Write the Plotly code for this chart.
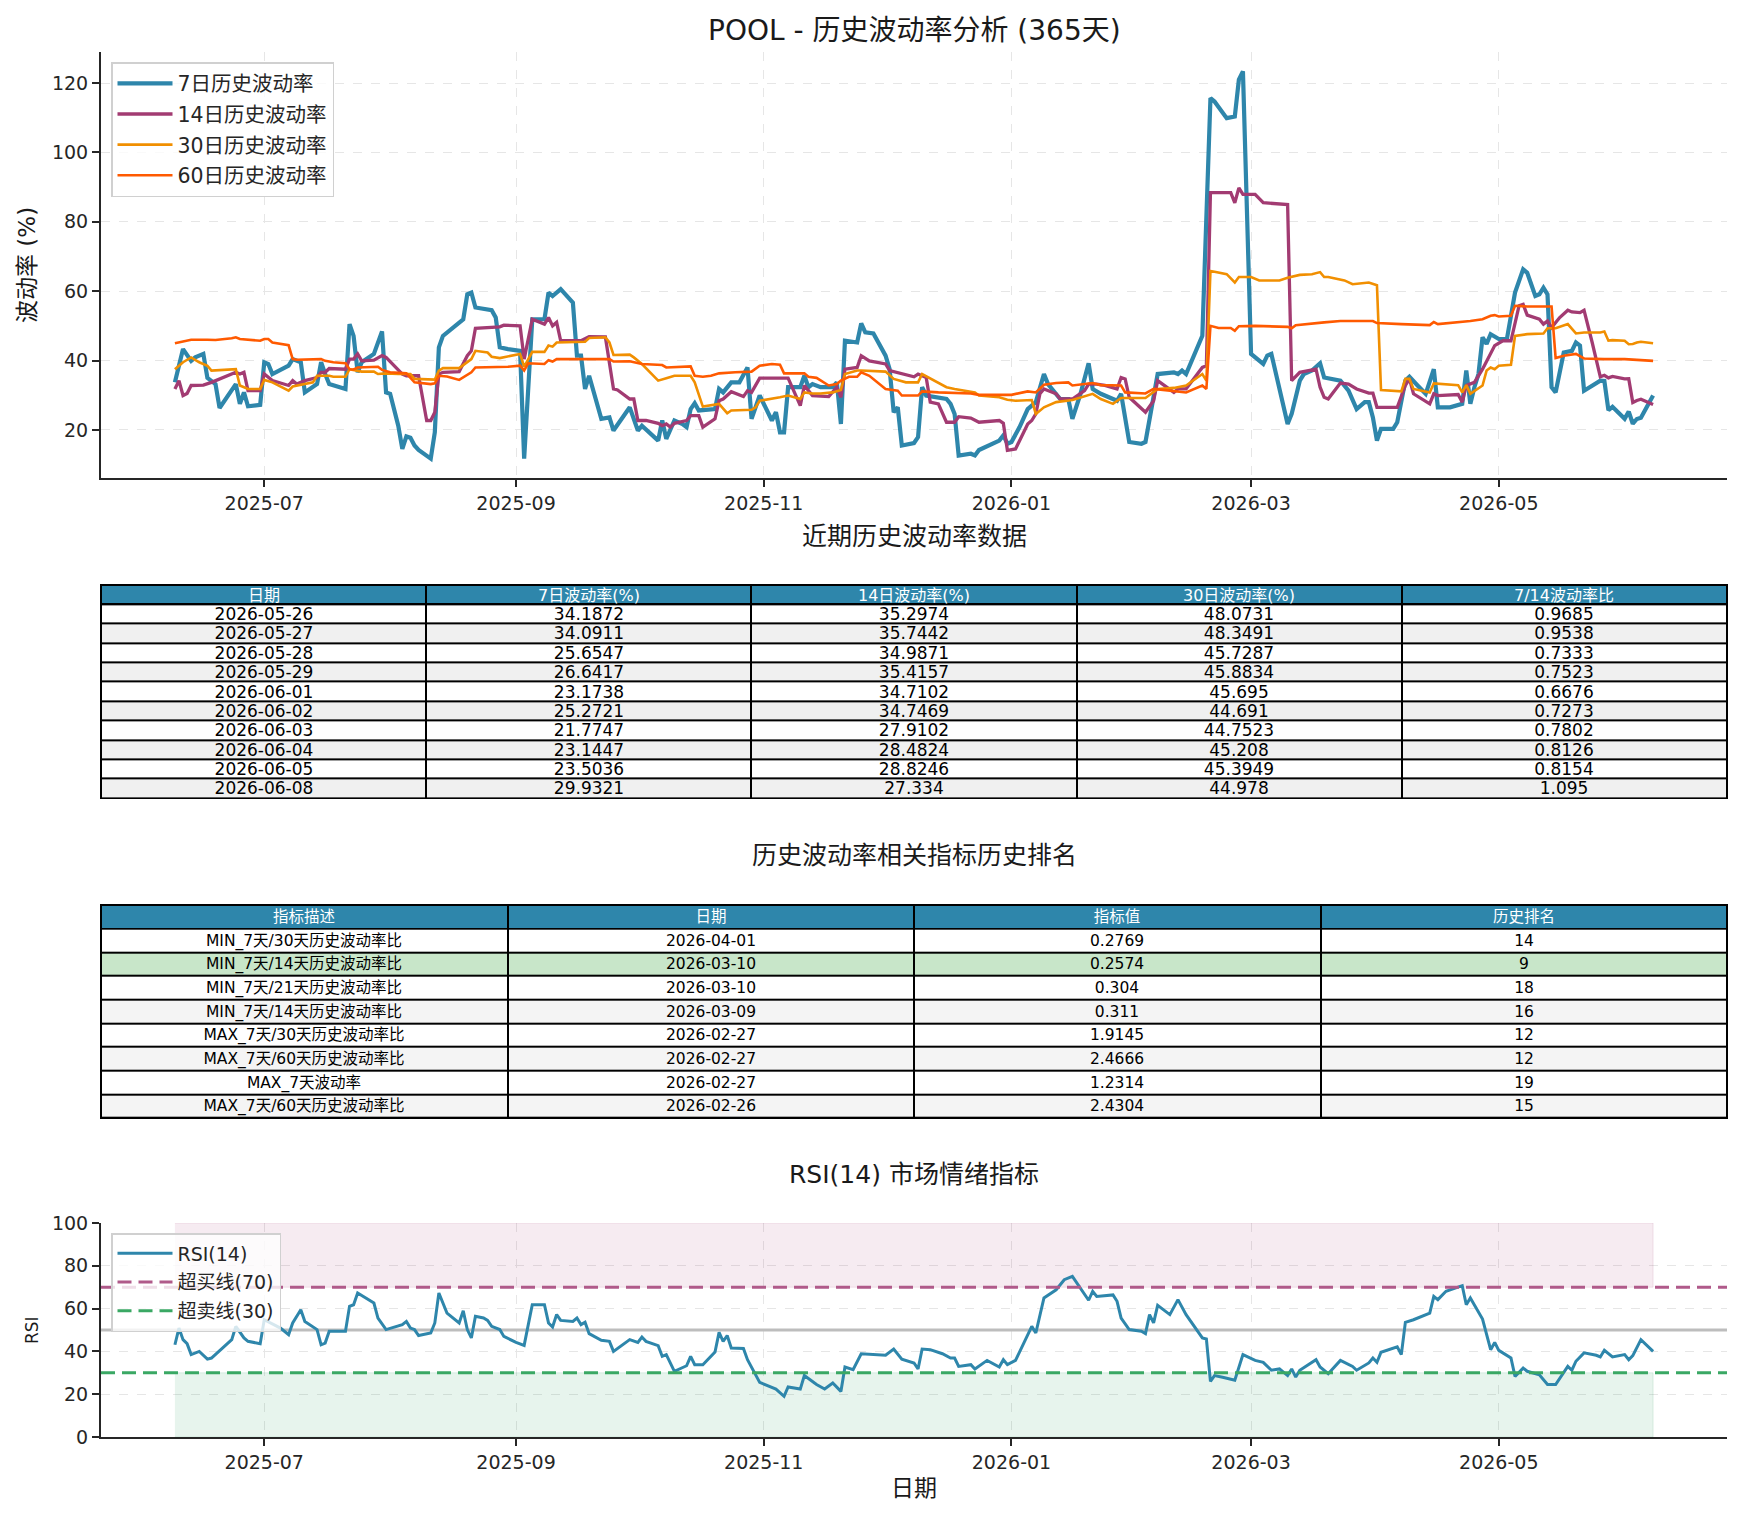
import pandas as pd
import plotly.graph_objects as go

# ---------------- data ----------------
BASE_DATE = "2025-06-09"  # first observation; x values below are day offsets from it

vol7_days = [0, 2, 4, 5, 7, 8, 10, 11, 15, 16, 17, 18, 21, 22, 23, 24, 28, 29, 31, 32, 35, 36, 37, 38, 42, 43, 44, 45, 46, 49,
             51, 52, 53, 55, 56, 57, 58, 59, 60, 63, 64, 65, 66, 71, 72, 73, 74, 78, 79, 80, 82, 85, 86, 88, 91, 92, 93, 95, 98, 99,
             100, 101, 102, 105, 107, 108, 112, 114, 115, 119, 120, 121, 123, 125, 126, 127, 128, 129, 133, 134, 135, 137, 139, 141, 142, 144, 147, 148, 149, 150,
             151, 154, 155, 156, 157, 159, 162, 163, 164, 165, 168, 169, 170, 172, 175, 176, 177, 178, 179, 182, 183, 184, 185, 190, 191, 192, 193, 196, 197, 198,
             203, 204, 205, 206, 208, 210, 212, 214, 215, 218, 220, 221, 223, 225, 226, 228, 232, 233, 235, 238, 239, 242, 246, 247, 248, 249, 253, 255, 256, 259,
             261, 262, 263, 265, 268, 269, 270, 274, 275, 277, 278, 280, 282, 283, 287, 289, 291, 293, 294, 295, 296, 297, 300, 301, 303, 304, 306, 308, 310, 311,
             314, 317, 318, 319, 320, 321, 322, 323, 324, 326, 328, 329, 330, 332, 333, 335, 336, 337, 338, 339, 340, 342, 344, 345, 346, 347, 350, 351, 352, 353,
             354, 357, 358, 359, 360, 361, 364]
vol7_vals = [33.7, 43.3, 39.9, 40.9, 41.9, 35.0, 33.2, 26.3, 33.2, 27.5, 30.8, 26.8, 27.2, 39.5, 39.0, 36.1, 38.5, 40.4, 39.5, 30.8, 33.2, 39.5, 36.1, 33.2, 31.8, 50.5, 47.1, 36.6, 39.5, 41.9,
             48.4, 30.8, 30.4, 21.2, 14.5, 18.1, 17.7, 15.5, 14.2, 11.7, 19.3, 43.8, 47.1, 51.9, 59.1, 59.6, 55.3, 54.5, 52.4, 43.8, 43.3, 42.8, 11.7, 51.9, 51.9, 59.6, 58.6, 60.6, 56.7, 41.4,
             41.4, 31.8, 35.6, 23.2, 23.6, 19.8, 26.5, 19.8, 21.2, 16.9, 22.7, 17.4, 22.7, 21.7, 20.8, 26.0, 27.7, 25.6, 26.0, 31.8, 30.8, 33.7, 33.7, 38.0, 23.2, 29.9, 22.7, 25.1, 19.3, 19.3,
             32.3, 32.3, 35.6, 32.3, 33.2, 32.3, 32.3, 33.7, 21.7, 45.7, 45.2, 50.7, 48.1, 47.8, 41.4, 37.5, 25.1, 26.5, 15.5, 16.2, 17.9, 32.3, 29.9, 28.9, 27.5, 24.6, 12.6, 13.1, 12.6, 14.2,
             16.9, 18.4, 16.0, 16.5, 20.8, 26.0, 28.0, 36.1, 33.2, 28.9, 28.9, 23.2, 30.4, 39.2, 31.8, 30.4, 28.4, 30.4, 16.5, 16.0, 16.5, 36.1, 36.6, 36.1, 37.1, 36.1, 47.1, 115.7, 114.7, 109.9,
             110.4, 121.0, 123.4, 41.9, 39.0, 41.4, 41.9, 21.7, 24.6, 34.2, 36.1, 37.1, 39.2, 35.1, 34.2, 31.3, 26.0, 28.0, 28.0, 23.6, 16.9, 20.3, 20.3, 22.2, 34.2, 35.3, 32.8, 30.4, 37.5, 26.5,
             26.5, 27.5, 37.1, 27.5, 32.3, 36.1, 46.7, 44.8, 47.6, 46.2, 46.2, 52.4, 59.6, 66.3, 65.3, 58.6, 59.1, 61.0, 59.1, 32.3, 30.8, 42.3, 42.8, 45.2, 44.3, 31.3, 33.7, 34.1872, 34.0911, 25.6547,
             26.6417, 23.1738, 25.2721, 21.7747, 23.1447, 23.5036, 29.9321]

vol14_days = [0, 1, 2, 3, 4, 7, 9, 11, 15, 16, 17, 18, 21, 22, 24, 28, 29, 30, 32, 35, 36, 37, 38, 42, 43, 44, 45, 46, 49, 51,
              52, 56, 57, 60, 62, 63, 64, 65, 66, 70, 72, 73, 74, 80, 81, 85, 86, 88, 91, 92, 93, 94, 95, 100, 102, 106, 108, 109, 112, 113,
              114, 116, 119, 120, 121, 122, 123, 126, 127, 129, 130, 133, 134, 135, 137, 140, 141, 142, 144, 151, 154, 155, 157, 161, 163, 164, 165, 168, 169, 171,
              175, 176, 182, 183, 185, 186, 188, 190, 192, 193, 196, 198, 203, 204, 205, 207, 210, 211, 212, 213, 214, 217, 218, 221, 224, 225, 227, 229, 232, 233,
              234, 235, 239, 241, 242, 246, 247, 249, 253, 254, 255, 260, 261, 262, 263, 266, 268, 274, 275, 277, 279, 281, 282, 283, 284, 287, 289, 291, 294, 295,
              296, 301, 303, 304, 305, 309, 310, 311, 316, 317, 318, 320, 322, 324, 325, 327, 329, 331, 332, 333, 336, 337, 338, 339, 341, 343, 344, 346, 347, 349,
              351, 352, 353, 354, 357, 358, 359, 360, 361, 364]
vol14_vals = [31.8, 34.2, 29.9, 30.5, 32.8, 32.9, 33.7, 34.7, 36.6, 36.1, 36.6, 31.3, 31.3, 36.1, 34.2, 32.8, 34.2, 33.2, 34.2, 35.1, 36.6, 36.6, 37.7, 37.5, 40.4, 40.4, 41.9, 39.9, 40.1, 41.4,
              40.9, 36.1, 35.6, 35.6, 22.7, 22.7, 25.1, 36.1, 36.6, 36.8, 41.4, 42.8, 49.3, 49.7, 50.2, 50.0, 40.4, 51.9, 50.5, 52.4, 50.0, 51.0, 45.7, 45.7, 46.9, 46.8, 31.8, 31.5, 28.9, 28.9,
              22.7, 22.7, 21.9, 21.2, 21.7, 20.8, 21.9, 22.7, 24.1, 24.1, 20.8, 23.2, 28.4, 28.9, 31.0, 29.6, 31.3, 30.8, 34.9, 34.9, 27.0, 32.8, 29.9, 29.6, 32.3, 29.4, 37.5, 38.0, 41.4, 39.9,
              39.0, 37.1, 35.3, 36.1, 35.1, 28.0, 27.5, 22.2, 22.2, 23.8, 23.4, 22.2, 22.7, 21.9, 14.1, 14.5, 21.7, 22.7, 24.6, 30.4, 31.8, 30.4, 28.9, 28.9, 31.3, 33.2, 33.2, 32.8, 31.8, 35.1,
              34.7, 29.4, 25.1, 28.4, 34.2, 30.8, 31.8, 31.8, 38.0, 38.5, 88.4, 88.4, 85.5, 89.8, 87.9, 87.9, 85.5, 85.0, 34.2, 36.6, 37.1, 37.5, 32.3, 29.4, 28.9, 33.5, 33.2, 31.8, 30.6, 30.6,
              26.5, 26.5, 32.8, 34.7, 30.4, 27.5, 30.4, 29.9, 30.2, 28.0, 32.8, 33.7, 37.5, 41.9, 44.3, 45.7, 45.7, 55.8, 56.2, 53.1, 51.9, 50.5, 51.4, 49.5, 52.4, 54.5, 54.0, 53.8, 54.5, 45.2,
              35.2974, 35.7442, 34.9871, 35.4157, 34.7102, 34.7469, 27.9102, 28.4824, 28.8246, 27.334]

vol30_days = [0, 2, 4, 6, 8, 9, 15, 16, 18, 21, 22, 24, 28, 29, 34, 35, 38, 39, 42, 43, 46, 49, 50, 52, 55, 58, 59, 63, 64, 65,
              66, 70, 72, 73, 74, 77, 78, 80, 85, 86, 88, 91, 92, 93, 94, 99, 101, 102, 106, 107, 108, 112, 113, 115, 117, 119, 121, 123, 127, 128,
              130, 134, 136, 137, 142, 143, 144, 147, 149, 151, 154, 155, 157, 159, 162, 164, 165, 168, 169, 175, 177, 180, 183, 184, 187, 190, 192, 197, 198, 203,
              205, 207, 211, 212, 214, 217, 221, 226, 228, 231, 233, 239, 242, 246, 249, 253, 254, 255, 256, 259, 261, 262, 265, 267, 272, 274, 277, 280, 282, 283,
              284, 288, 290, 294, 296, 297, 302, 303, 304, 305, 309, 310, 316, 317, 318, 319, 322, 323, 324, 325, 326, 329, 330, 333, 337, 338, 340, 343, 345, 347,
              351, 352, 353, 354, 357, 358, 359, 360, 361, 364]
vol30_vals = [37.5, 39.5, 40.9, 39.5, 38.5, 37.1, 37.5, 32.8, 31.8, 31.8, 34.4, 33.7, 31.3, 32.5, 33.7, 35.6, 35.6, 35.3, 35.3, 37.5, 36.8, 36.8, 36.1, 36.3, 36.1, 36.1, 34.7, 34.4, 34.5, 37.1,
              37.8, 37.8, 39.5, 40.4, 42.8, 42.3, 41.1, 40.7, 41.9, 38.2, 42.5, 42.5, 44.3, 44.0, 45.2, 45.2, 45.4, 46.5, 46.7, 45.2, 41.6, 41.7, 40.9, 39.0, 36.6, 34.2, 34.9, 35.6, 35.6, 33.7,
              26.7, 27.5, 24.8, 25.6, 25.8, 26.5, 28.4, 28.9, 29.4, 29.9, 28.9, 30.8, 30.5, 30.5, 30.8, 31.5, 36.1, 37.1, 37.1, 36.8, 34.7, 33.7, 33.7, 36.1, 34.2, 32.3, 31.8, 30.8, 29.9, 29.4,
              28.7, 28.4, 28.6, 24.6, 26.5, 28.0, 28.6, 30.4, 28.9, 27.5, 29.2, 29.2, 31.8, 32.1, 32.8, 36.1, 34.2, 65.8, 65.6, 64.9, 62.5, 64.1, 64.1, 63.1, 63.1, 63.9, 64.7, 64.9, 65.5, 64.1,
              64.1, 63.1, 62.0, 62.5, 61.7, 31.5, 31.1, 34.7, 34.7, 31.8, 30.8, 33.4, 32.9, 30.8, 32.9, 30.4, 32.8, 37.1, 38.0, 37.5, 38.5, 38.8, 47.1, 47.6, 47.8, 49.3, 49.3, 50.5, 47.8, 48.1,
              48.0731, 48.3491, 45.7287, 45.8834, 45.695, 44.691, 44.7523, 45.208, 45.3949, 44.978]

vol60_days = [0, 2, 4, 8, 10, 14, 15, 16, 19, 21, 22, 23, 24, 28, 29, 30, 36, 37, 39, 42, 43, 44, 45, 50, 51, 53, 57, 59, 63, 64,
              65, 67, 70, 72, 73, 74, 82, 85, 86, 87, 91, 92, 93, 94, 101, 102, 107, 108, 112, 115, 120, 121, 127, 128, 130, 132, 134, 138, 142, 144,
              147, 149, 150, 155, 156, 158, 161, 163, 164, 166, 168, 169, 171, 175, 178, 179, 183, 184, 188, 196, 198, 206, 208, 210, 212, 214, 217, 220, 221, 225,
              226, 228, 233, 234, 239, 241, 246, 249, 253, 254, 255, 257, 260, 261, 262, 266, 274, 275, 276, 282, 283, 287, 295, 296, 301, 302, 309, 310, 311, 316,
              319, 322, 324, 325, 326, 329, 330, 333, 339, 340, 342, 345, 347, 352, 357, 364]
vol60_vals = [45.0, 45.5, 46.0, 46.0, 45.9, 46.4, 46.7, 46.2, 46.0, 45.7, 46.2, 46.2, 45.2, 44.4, 40.4, 40.2, 40.4, 39.9, 39.5, 39.2, 37.5, 37.4, 38.0, 38.2, 37.3, 36.6, 36.3, 33.7, 33.2, 33.4,
              35.6, 35.4, 34.4, 35.8, 36.6, 38.0, 38.2, 38.5, 37.1, 39.2, 39.0, 40.1, 39.7, 40.4, 40.4, 40.6, 40.4, 39.7, 39.8, 39.0, 38.7, 38.0, 38.3, 35.6, 35.3, 35.6, 36.3, 36.6, 36.8, 38.5,
              39.0, 38.8, 36.3, 36.3, 35.3, 35.0, 32.8, 33.2, 34.2, 35.3, 35.3, 36.6, 35.6, 31.8, 31.3, 29.9, 29.9, 31.1, 30.8, 30.5, 30.1, 30.1, 30.5, 31.1, 30.8, 33.0, 33.5, 33.7, 32.8, 33.2,
              33.5, 32.9, 32.8, 30.8, 30.5, 31.8, 31.3, 30.8, 32.8, 31.8, 50.0, 49.4, 49.4, 48.6, 49.9, 50.0, 49.7, 49.3, 50.2, 50.7, 51.0, 51.4, 51.4, 50.8, 50.7, 50.5, 50.2, 51.1, 50.5, 51.0,
              51.4, 51.9, 52.9, 53.1, 52.7, 52.9, 55.8, 55.6, 55.6, 40.7, 41.4, 41.9, 40.6, 40.4, 40.4, 39.9]

rsi_days = [0, 1, 2, 3, 4, 6, 8, 9, 14, 15, 17, 18, 21, 22, 26, 28, 29, 31, 32, 35, 36, 37, 38, 42, 43, 44, 45, 49, 50, 52,
            56, 57, 58, 59, 60, 63, 64, 65, 67, 70, 71, 72, 73, 74, 76, 77, 78, 80, 81, 84, 86, 88, 91, 92, 93, 94, 95, 98, 99, 100,
            101, 102, 105, 107, 108, 112, 114, 115, 116, 119, 120, 121, 123, 126, 127, 128, 130, 133, 134, 135, 136, 137, 140, 141, 144, 148, 150, 151, 154, 155,
            158, 160, 162, 164, 165, 167, 169, 175, 177, 179, 182, 183, 184, 186, 189, 191, 192, 193, 196, 197, 200, 203, 204, 205, 207, 209, 211, 212, 214, 217,
            219, 221, 223, 225, 226, 227, 231, 232, 233, 235, 238, 239, 240, 241, 242, 245, 247, 249, 253, 254, 255, 256, 258, 261, 263, 266, 268, 270, 272, 274,
            275, 276, 277, 279, 281, 282, 284, 287, 290, 291, 294, 295, 296, 297, 301, 302, 303, 305, 309, 310, 311, 313, 317, 318, 319, 322, 324, 325, 326, 329,
            330, 332, 333, 336, 338, 340, 343, 344, 345, 347, 350, 351, 352, 354, 357, 358, 359, 361, 364]
rsi_vals = [43.1, 50.9, 45.5, 43.6, 38.5, 40.0, 36.4, 36.9, 45.5, 51.7, 46.3, 44.7, 43.6, 54.8, 50.9, 47.8, 53.3, 59.5, 54.0, 50.2, 43.1, 43.9, 49.4, 49.4, 61.1, 61.8, 67.3, 62.6, 55.6, 50.2,
            52.5, 54.0, 50.9, 50.2, 47.4, 48.6, 53.3, 67.3, 57.9, 53.3, 59.0, 50.2, 46.3, 56.4, 55.6, 54.5, 51.7, 50.2, 47.0, 44.2, 42.8, 61.8, 61.8, 53.3, 51.4, 57.2, 54.5, 54.0, 55.6, 52.5,
            53.6, 48.3, 45.2, 44.7, 40.0, 45.5, 44.2, 46.7, 44.7, 42.7, 37.7, 38.5, 30.7, 33.3, 37.7, 33.8, 33.8, 39.7, 48.9, 44.7, 47.4, 41.6, 41.4, 36.1, 25.5, 22.4, 19.0, 23.4, 22.4, 28.7,
            24.5, 22.4, 25.2, 21.3, 32.7, 31.5, 38.9, 38.2, 41.1, 36.4, 34.6, 31.8, 41.1, 40.8, 38.9, 36.9, 36.9, 33.0, 33.8, 31.8, 35.8, 32.7, 36.1, 33.8, 35.8, 43.9, 51.7, 48.6, 65.0, 68.8,
            73.5, 75.1, 69.2, 63.9, 68.1, 65.7, 66.4, 63.4, 55.6, 50.2, 49.4, 48.3, 57.2, 53.3, 61.5, 57.2, 64.2, 57.2, 46.3, 45.8, 26.0, 28.7, 27.9, 26.5, 38.5, 35.8, 34.9, 31.2, 31.8, 28.7,
            31.8, 28.0, 31.2, 33.8, 36.1, 32.7, 29.6, 35.8, 33.0, 31.2, 34.6, 36.9, 34.9, 39.6, 42.1, 38.5, 53.6, 54.8, 57.9, 65.7, 64.2, 68.1, 70.7, 61.8, 65.0, 55.1, 40.8, 44.2, 40.5, 36.9,
            28.3, 32.2, 30.7, 29.1, 24.5, 24.5, 33.0, 31.2, 35.4, 39.3, 38.2, 37.4, 40.5, 37.4, 38.5, 36.1, 38.0, 45.5, 40.0]

month_ticks = ["2025-07-01", "2025-09-01", "2025-11-01", "2026-01-01", "2026-03-01", "2026-05-01"]
rsi_yticks = [0, 20, 40, 60, 80, 100]
vol_yticks = [20, 40, 60, 80, 100, 120]
OVERBOUGHT, OVERSOLD, MIDLINE = 70, 30, 50

table1_header = ["日期", "7日波动率(%)", "14日波动率(%)", "30日波动率(%)", "7/14波动率比"]
table1_dates = ["2026-05-26", "2026-05-27", "2026-05-28", "2026-05-29", "2026-06-01",
                "2026-06-02", "2026-06-03", "2026-06-04", "2026-06-05", "2026-06-08"]
table1_vol7 = [34.1872, 34.0911, 25.6547, 26.6417, 23.1738, 25.2721, 21.7747, 23.1447, 23.5036, 29.9321]
table1_vol14 = [35.2974, 35.7442, 34.9871, 35.4157, 34.7102, 34.7469, 27.9102, 28.4824, 28.8246, 27.334]
table1_vol30 = [48.0731, 48.3491, 45.7287, 45.8834, 45.695, 44.691, 44.7523, 45.208, 45.3949, 44.978]
table1_ratio = [0.9685, 0.9538, 0.7333, 0.7523, 0.6676, 0.7273, 0.7802, 0.8126, 0.8154, 1.095]

table2_header = ["指标描述", "日期", "指标值", "历史排名"]
table2_desc = ["MIN_7天/30天历史波动率比", "MIN_7天/14天历史波动率比", "MIN_7天/21天历史波动率比", "MIN_7天/14天历史波动率比",
               "MAX_7天/30天历史波动率比", "MAX_7天/60天历史波动率比", "MAX_7天波动率", "MAX_7天/60天历史波动率比"]
table2_dates = ["2026-04-01", "2026-03-10", "2026-03-10", "2026-03-09", "2026-02-27", "2026-02-27", "2026-02-27", "2026-02-26"]
table2_values = [0.2769, 0.2574, 0.304, 0.311, 1.9145, 2.4666, 1.2314, 2.4304]
table2_rank = [14, 9, 18, 16, 12, 12, 19, 15]
table2_highlight = 1

# ---------------- styling / layout helpers ----------------
W, H = 1743, 1516
FONT = "DejaVu Sans, Noto Sans CJK SC, sans-serif"
C7, C14, C30, C60 = "#2E86AB", "#A23B72", "#F18F01", "#FF5A00"
HEADER = "#2E86AB"


def fx(px):
    return px / W


def fy(px):
    return 1 - px / H


base = pd.Timestamp(BASE_DATE)


def to_dates(days):
    return [base + pd.Timedelta(days=d) for d in days]


all_days = vol7_days + vol14_days + vol30_days + vol60_days + rsi_days
d_lo, d_hi = min(all_days), max(all_days)
pad_d = 0.05 * (d_hi - d_lo)
x_lo = base + pd.Timedelta(days=d_lo - pad_d)
x_hi = base + pd.Timedelta(days=d_hi + pad_d)
x_range = [x_lo.strftime("%Y-%m-%d %H:%M:%S"), x_hi.strftime("%Y-%m-%d %H:%M:%S")]

all_vol = vol7_vals + vol14_vals + vol30_vals + vol60_vals
v_lo, v_hi = min(all_vol), max(all_vol)
pad_v = 0.05 * (v_hi - v_lo)
vol_range = [v_lo - pad_v, v_hi + pad_v]

X_DOM = [fx(101), fx(1727)]

fig = go.Figure()

# ---- volatility lines ----
for name, days, vals, color, width in [
    ("7日历史波动率", vol7_days, vol7_vals, C7, 4.2),
    ("14日历史波动率", vol14_days, vol14_vals, C14, 3.3),
    ("30日历史波动率", vol30_days, vol30_vals, C30, 2.6),
    ("60日历史波动率", vol60_days, vol60_vals, C60, 2.6),
]:
    fig.add_trace(go.Scatter(x=to_dates(days), y=vals, mode="lines", name=name,
                             line=dict(color=color, width=width), xaxis="x", yaxis="y",
                             legend="legend", legendgroup=name, hoverinfo="skip"))

# ---- RSI panel ----
rsi_dates = to_dates(rsi_days)
r0, r1 = rsi_dates[0], rsi_dates[-1]
fig.add_trace(go.Scatter(x=[r0, r1, r1, r0], y=[OVERBOUGHT, OVERBOUGHT, 100, 100], fill="toself",
                         fillcolor="rgba(162,59,114,0.10)", line=dict(color="rgba(162,59,114,0.12)", width=1),
                         mode="lines", showlegend=False, xaxis="x2", yaxis="y2", hoverinfo="skip"))
fig.add_trace(go.Scatter(x=[r0, r1, r1, r0], y=[0, 0, OVERSOLD, OVERSOLD], fill="toself",
                         fillcolor="rgba(24,150,80,0.10)", line=dict(color="rgba(24,150,80,0.12)", width=1),
                         mode="lines", showlegend=False, xaxis="x2", yaxis="y2", hoverinfo="skip"))
fig.add_trace(go.Scatter(x=[x_range[0], x_range[1]], y=[MIDLINE, MIDLINE], mode="lines",
                         line=dict(color="#bdbdbd", width=3), showlegend=False,
                         xaxis="x2", yaxis="y2", hoverinfo="skip"))
fig.add_trace(go.Scatter(x=rsi_dates, y=rsi_vals, mode="lines", name="RSI(14)",
                         line=dict(color=C7, width=3), xaxis="x2", yaxis="y2",
                         legend="legend2", legendgroup="rsi", hoverinfo="skip"))
fig.add_trace(go.Scatter(x=[x_range[0], x_range[1]], y=[OVERBOUGHT, OVERBOUGHT], mode="lines",
                         name="超买线(70)", line=dict(color="#b05a8a", width=3, dash="14px,7px"),
                         xaxis="x2", yaxis="y2", legend="legend2", legendgroup="ob", hoverinfo="skip"))
fig.add_trace(go.Scatter(x=[x_range[0], x_range[1]], y=[OVERSOLD, OVERSOLD], mode="lines",
                         name="超卖线(30)", line=dict(color="#3aa864", width=3, dash="14px,7px"),
                         xaxis="x2", yaxis="y2", legend="legend2", legendgroup="os", hoverinfo="skip"))

# ---- tables (heatmap cells + text) ----
t1_body = [table1_dates, [str(v) for v in table1_vol7], [str(v) for v in table1_vol14],
           [str(v) for v in table1_vol30], [str(v) for v in table1_ratio]]
n1 = len(table1_dates)
t1_text = [[t1_body[c][r] for c in range(len(table1_header))] for r in range(n1)]
t1_z = [[r % 2] * len(table1_header) for r in range(n1)]

t2_body = [table2_desc, table2_dates, [str(v) for v in table2_values], [str(v) for v in table2_rank]]
n2 = len(table2_desc)
t2_text = [[t2_body[c][r] for c in range(len(table2_header))] for r in range(n2)]
t2_z = [[(2 if r == table2_highlight else r % 2)] * len(table2_header) for r in range(n2)]


def add_table(header, text, z, xa, ya, fsize, gray, hsize):
    ncol = len(header)
    fig.add_trace(go.Heatmap(x=list(range(ncol)), y=[0], z=[[0] * ncol], text=[header],
                             texttemplate="%{text}", textfont=dict(family=FONT, size=hsize, color="white"),
                             colorscale=[[0, HEADER], [1, HEADER]], showscale=False, xgap=2, ygap=2,
                             hoverinfo="skip", xaxis=xa, yaxis=ya))
    fig.add_trace(go.Heatmap(x=list(range(ncol)), y=list(range(1, len(text) + 1)), z=z, text=text,
                             texttemplate="%{text}", textfont=dict(family=FONT, size=fsize, color="black"),
                             colorscale=[[0, "#ffffff"], [0.5, gray], [1, "#c8e6c9"]], zmin=0, zmax=2,
                             showscale=False, xgap=2, ygap=2, hoverinfo="skip", xaxis=xa, yaxis=ya))


add_table(table1_header, t1_text, t1_z, "x3", "y3", 17, "#f0f0f0", 16)
add_table(table2_header, t2_text, t2_z, "x4", "y4", 15.5, "#f4f4f4", 15.5)

# ---------------- axes ----------------
tick_font = dict(family=FONT, size=19, color="#262626")
common = dict(showline=True, linecolor="#262626", linewidth=2, ticks="outside", ticklen=7,
              tickwidth=1.6, tickcolor="#262626", showgrid=True, gridcolor="#e6e6e6", gridwidth=1,
              griddash="dash", zeroline=False, tickfont=tick_font, fixedrange=True, automargin=False)
xt = dict(tickvals=month_ticks, ticktext=[m[:7] for m in month_ticks], type="date", range=x_range)

hidden = dict(visible=False, fixedrange=True, automargin=False)

fig.update_layout(
    width=W, height=H, margin=dict(l=0, r=0, t=0, b=0, pad=0, autoexpand=False),
    paper_bgcolor="white", plot_bgcolor="white",
    font=dict(family=FONT, color="#262626"),
    xaxis=dict(domain=X_DOM, anchor="y", **xt, **common),
    yaxis=dict(domain=[fy(478), fy(52)], anchor="x", range=vol_range, tickvals=vol_yticks, **common),
    xaxis2=dict(domain=X_DOM, anchor="y2", **xt, **common),
    yaxis2=dict(domain=[fy(1437), fy(1223)], anchor="x2", range=[0, 100], tickvals=rsi_yticks, **common),
    xaxis3=dict(domain=X_DOM, anchor="y3", range=[-0.5, len(table1_header) - 0.5], **hidden),
    yaxis3=dict(domain=[fy(798), fy(585)], anchor="x3", range=[n1 + 0.5, -0.5], **hidden),
    xaxis4=dict(domain=X_DOM, anchor="y4", range=[-0.5, len(table2_header) - 0.5], **hidden),
    yaxis4=dict(domain=[fy(1118), fy(905)], anchor="x4", range=[n2 + 0.5, -0.5], **hidden),
    legend=dict(x=fx(111), y=fy(62), xanchor="left", yanchor="top", bgcolor="rgba(255,255,255,0.8)",
                bordercolor="#d0d0d0", borderwidth=1.5, font=dict(family=FONT, size=20.5, color="#262626"),
                tracegroupgap=1, itemwidth=55),
    legend2=dict(x=fx(111), y=fy(1233), xanchor="left", yanchor="top", bgcolor="rgba(255,255,255,0.8)",
                 bordercolor="#d0d0d0", borderwidth=1.5, font=dict(family=FONT, size=19, color="#262626"),
                 tracegroupgap=1, itemwidth=55),
    showlegend=True,
)

# table borders (black background revealed by cell gaps)
for xa, ya in [("x3", "y3"), ("x4", "y4")]:
    fig.add_shape(type="rect", xref=f"{xa} domain", yref=f"{ya} domain", x0=0, x1=1, y0=0, y1=1,
                  fillcolor="black", line=dict(color="black", width=2), layer="below")

# ---------------- titles / labels ----------------
cx = (X_DOM[0] + X_DOM[1]) / 2
ann = [
    dict(text="POOL - 历史波动率分析 (365天)", x=cx, y=fy(30), size=28),
    dict(text="近期历史波动率数据", x=cx, y=fy(536), size=25),
    dict(text="历史波动率相关指标历史排名", x=cx, y=fy(855), size=25),
    dict(text="RSI(14) 市场情绪指标", x=cx, y=fy(1174), size=25),
    dict(text="日期", x=cx, y=fy(1488), size=23),
]
for a in ann:
    fig.add_annotation(text=a["text"], x=a["x"], y=a["y"], xref="paper", yref="paper",
                       xanchor="center", yanchor="middle", showarrow=False,
                       font=dict(family=FONT, size=a["size"], color="#1a1a1a"))
fig.add_annotation(text="波动率 (%)", x=fx(27), y=fy(265), xref="paper", yref="paper", textangle=-90,
                   xanchor="center", yanchor="middle", showarrow=False,
                   font=dict(family=FONT, size=23, color="#1a1a1a"))
fig.add_annotation(text="RSI", x=fx(32), y=fy(1330), xref="paper", yref="paper", textangle=-90,
                   xanchor="center", yanchor="middle", showarrow=False,
                   font=dict(family=FONT, size=17, color="#1a1a1a"))

fig.write_html("out.html")
